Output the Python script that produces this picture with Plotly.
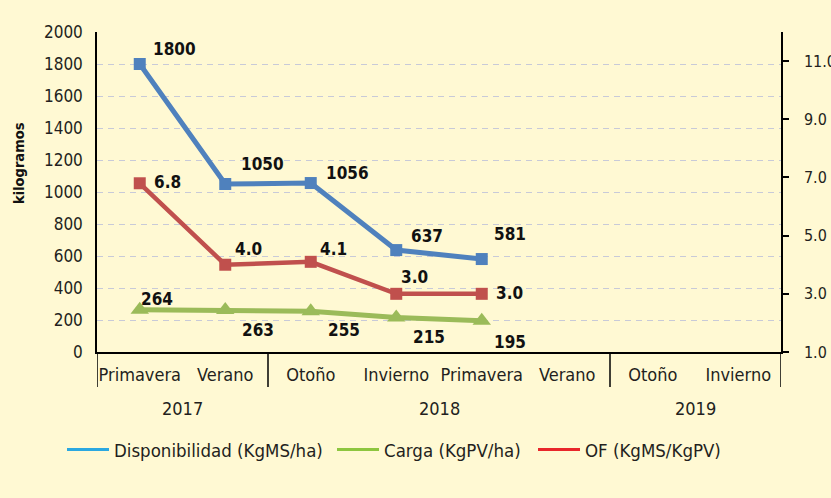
import plotly.graph_objects as go

# ---- data ----
seasons = ["Primavera", "Verano", "Otoño", "Invierno", "Primavera", "Verano", "Otoño", "Invierno"]
years = ["2017", "2018", "2019"]
year_groups = [[0, 1], [2, 3, 4, 5], [6, 7]]
disponibilidad = [1800, 1050, 1056, 637, 581]
carga = [264, 263, 255, 215, 195]
of_ratio = [6.8, 4.0, 4.1, 3.0, 3.0]
left_ticks = list(range(0, 2001, 200))
right_ticks = [1.0, 3.0, 5.0, 7.0, 9.0, 11.0]
legend_names = ["Disponibilidad (KgMS/ha)", "Carga (KgPV/ha)", "OF (KgMS/KgPV)"]

# ---- styling / label offsets (px) ----
legend_colors = ["#2BA8E0", "#8DC63F", "#E8262A"]
legend_text_x = [115, 385, 586]
disp_off = [(35, 15), (37, 20), (37, 10), (31, 14), (28, 25)]
of_off = [(28, 1), (23, 16), (23, 13), (18, 17), (28, 1)]
carga_off = [(17, 11), (33, -20), (33, -19), (33, -19), (28, -21)]

FONT = "DejaVu Sans Condensed, Liberation Sans, sans-serif"
TXT = "#231F20"
BG = "#FFF9D3"
LBL = 17
ITEMW = 42

PL, PR, PT, PB, W, H = 97, 50, 32, 146, 831, 498
pw, ph = W - PL - PR, H - PT - PB

xs = list(range(len(disponibilidad)))

fig = go.Figure()
fig.add_trace(go.Scatter(x=xs, y=disponibilidad, mode="lines+markers", yaxis="y",
                         line=dict(color="#4F81BD", width=5),
                         marker=dict(symbol="square", size=12, color="#4F81BD"),
                         showlegend=False))
fig.add_trace(go.Scatter(x=xs, y=of_ratio, mode="lines+markers", yaxis="y2",
                         line=dict(color="#C0504D", width=4.5),
                         marker=dict(symbol="square", size=12, color="#C0504D"),
                         showlegend=False))
fig.add_trace(go.Scatter(x=xs, y=carga, mode="lines+markers", yaxis="y",
                         line=dict(color="#9BBB59", width=5),
                         marker=dict(symbol="triangle-up", size=16, color="#9BBB59"),
                         showlegend=False))

# legend-only entries, each in its own legend for exact placement
legend_ids = ["legend", "legend2", "legend3"]
for name, col, lid in zip(legend_names, legend_colors, legend_ids):
    fig.add_trace(go.Scatter(x=[None], y=[None], mode="lines", name=name, legend=lid,
                             line=dict(color=col, width=3), showlegend=True))

lblfont = dict(family=FONT, size=LBL, color="#111111", weight="bold")
ann = []
for i, v in enumerate(disponibilidad):
    ann.append(dict(x=xs[i], y=v, xref="x", yref="y", text=f"{v}", showarrow=False,
                    xshift=disp_off[i][0], yshift=disp_off[i][1], font=lblfont))
for i, v in enumerate(of_ratio):
    ann.append(dict(x=xs[i], y=v, xref="x", yref="y2", text=f"{v:.1f}", showarrow=False,
                    xshift=of_off[i][0], yshift=of_off[i][1], font=lblfont))
for i, v in enumerate(carga):
    ann.append(dict(x=xs[i], y=v, xref="x", yref="y", text=f"{v}", showarrow=False,
                    xshift=carga_off[i][0], yshift=carga_off[i][1], font=lblfont))
for yr, grp in zip(years, year_groups):
    ann.append(dict(x=sum(grp) / len(grp), y=(H - PB - 408) / ph, xref="x", yref="paper",
                    text=yr, showarrow=False, yanchor="middle",
                    font=dict(family=FONT, size=18, color=TXT)))
ann.append(dict(x=(19 - PL) / pw, y=(H - PB - 163) / ph, xref="paper", yref="paper",
                text="<b>kilogramos</b>", showarrow=False, textangle=-90,
                xanchor="center", yanchor="middle",
                font=dict(family=FONT, size=14.5, color="#111111")))

shapes = []
for xb in [-0.5, 1.5, 5.5, 7.5]:
    shapes.append(dict(type="line", xref="x", yref="paper", x0=xb, x1=xb,
                       y0=0, y1=(H - PB - 387) / ph,
                       line=dict(color="#000000", width=1.5)))

legend_common = dict(orientation="h", xanchor="left", y=(H - PB - 450) / ph,
                     yanchor="middle", bgcolor="rgba(0,0,0,0)", itemwidth=ITEMW,
                     font=dict(family=FONT, size=18.5, color=TXT))
legends = {}
for lid, tx in zip(legend_ids, legend_text_x):
    legends[lid] = dict(legend_common, x=(tx - 41 - (ITEMW - 30) - PL) / pw)

fig.update_layout(
    width=W, height=H,
    margin=dict(l=PL, r=PR, t=PT, b=PB, autoexpand=False),
    paper_bgcolor=BG, plot_bgcolor=BG,
    font=dict(family=FONT, color=TXT),
    xaxis=dict(range=[-0.5, 7.5], tickmode="array", tickvals=list(range(len(seasons))),
               ticktext=seasons, tickangle=0, showgrid=False, zeroline=False, showline=True,
               linecolor="#000000", linewidth=1.5, ticks="", ticklabelstandoff=6,
               automargin=False,
               tickfont=dict(family=FONT, size=18, color=TXT), fixedrange=True),
    yaxis=dict(range=[0, 2000], tickmode="array", tickvals=left_ticks,
               showgrid=True, gridcolor="#C8CAD8", griddash="6px,5px", gridwidth=1.2,
               zeroline=False, showline=True, linecolor="#000000", linewidth=1.5,
               ticks="", ticklabelstandoff=9, automargin=False,
               tickfont=dict(family=FONT, size=17, color=TXT)),
    yaxis2=dict(range=[1, 12], tickmode="array", tickvals=right_ticks, tickformat=".1f",
                overlaying="y", side="right", showgrid=False, zeroline=False,
                showline=True, linecolor="#000000", linewidth=1.5,
                ticks="outside", ticklen=6, tickcolor="#000000", tickwidth=1.5,
                ticklabelstandoff=12, automargin=False,
                tickfont=dict(family=FONT, size=16, color=TXT)),
    annotations=ann, shapes=shapes,
    **legends,
)

fig.write_html("out.html", config={"displayModeBar": False},
               post_script="document.body.style.margin='0';document.body.style.overflow='hidden';")
